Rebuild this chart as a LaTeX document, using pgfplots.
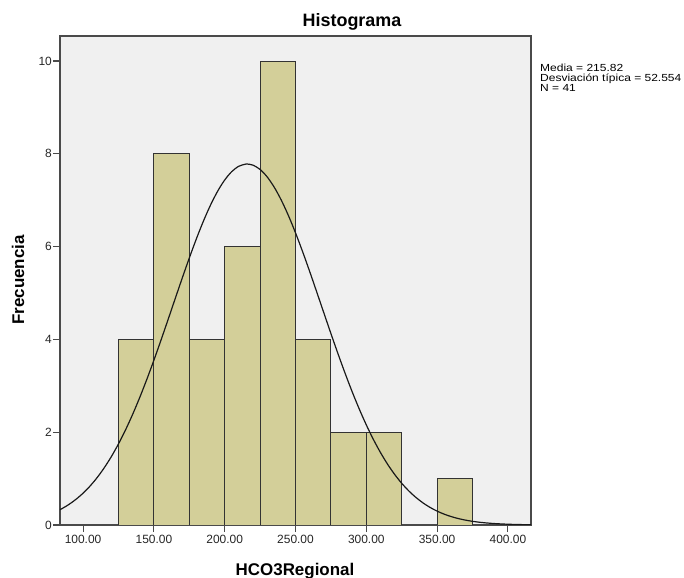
\documentclass[border=0pt]{standalone}
\usepackage{pgfplots}
\pgfplotsset{compat=1.18}
\usepackage{fontspec}
\setmainfont{Liberation Sans}
\usepackage{graphicx}
\definecolor{bgc}{HTML}{F0F0F0}
\definecolor{barc}{HTML}{D3CF99}
\definecolor{axc}{HTML}{4A4A4A}
\begin{document}
\begin{tikzpicture}
\path[use as bounding box] (-60bp,-53bp) rectangle (624bp,525bp);
\begin{axis}[
  at={(0,0)}, anchor=south west,
  scale only axis, width=471bp, height=489bp,
  xmin=83.7, xmax=416.3, ymin=0, ymax=10.54,
  axis background/.style={fill=bgc},
  axis line style={draw=axc, line width=1.3bp},
  xtick={100,150,200,250,300,350,400},
  xticklabels={100.00,150.00,200.00,250.00,300.00,350.00,400.00},
  ytick={0,2,4,6,8,10},
  yticklabels={0,2,4,6,8,10},
  xtick pos=bottom, ytick pos=left,
  tick align=outside,
  major tick length=7bp,
  tick style={draw=axc, line width=1.1bp},
  ticklabel style={font=\fontsize{12}{12}\selectfont, text=black!85},
  xticklabel style={inner sep=1bp, yshift=-2bp},
  yticklabel style={inner sep=1bp},
  clip=true,
]
\addplot[ybar interval, fill=barc, draw=black!80, line width=0.9bp] coordinates {
(125,4) (150,8) (175,4) (200,6) (225,10) (250,4) (275,2) (300,2) (325,0) (350,1) (375,1)
};
\addplot[black!90, line width=1.2bp, smooth] coordinates {
(83.7,0.330) (85,0.3512) (90,0.4431) (95,0.5538) (100,0.6862) (105,0.8422) (110,1.0246)
(115,1.2358) (120,1.4762) (125,1.7481) (130,2.0511) (135,2.3850) (140,2.7484)
(145,3.1385) (150,3.5516) (155,3.9829) (160,4.4265) (165,4.8750) (170,5.3206)
(175,5.7545) (180,6.1682) (185,6.5516) (190,6.8963) (195,7.1937) (200,7.4363)
(205,7.6179) (210,7.7335) (215,7.7800) (215.82,7.781) (220,7.7564) (225,7.6632)
(230,7.5028) (235,7.2797) (240,6.9995) (245,6.6695) (250,6.2978) (255,5.8931)
(260,5.4649) (265,5.0218) (270,4.5734) (275,4.1276) (280,3.6914) (285,3.2714)
(290,2.8734) (295,2.5010) (300,2.1573) (305,1.8439) (310,1.5620) (315,1.3112)
(320,1.0909) (325,0.8993) (330,0.7346) (335,0.5947) (340,0.4771) (345,0.3793)
(350,0.2989) (355,0.2334) (360,0.1806) (365,0.1384) (370,0.1052) (375,0.0792)
(380,0.0591) (385,0.0437) (390,0.0320) (395,0.0233) (400,0.0167) (405,0.0119)
(410,0.0084) (415,0.0059) (416.3,0.0053)
};
\end{axis}
\node[anchor=base, font=\bfseries\fontsize{18}{18}\selectfont] at (292bp,498bp) {Histograma};
\node[anchor=base, font=\bfseries\fontsize{17}{17}\selectfont] at (235bp,-50bp) {HCO3Regional};
\node[anchor=base, rotate=90, font=\bfseries\fontsize{17}{17}\selectfont] at (-36bp,245bp) {Frecuencia};
\node[anchor=base west, inner sep=0pt, font=\fontsize{10.3}{10}\selectfont] at (480bp,453bp) {\scalebox{1.17}[1]{Media = 215.82}};
\node[anchor=base west, inner sep=0pt, font=\fontsize{10.3}{10}\selectfont] at (480bp,443.3bp) {\scalebox{1.17}[1]{Desviación típica = 52.554}};
\node[anchor=base west, inner sep=0pt, font=\fontsize{10.3}{10}\selectfont] at (480bp,433.5bp) {\scalebox{1.17}[1]{N = 41}};
\end{tikzpicture}
\end{document}
